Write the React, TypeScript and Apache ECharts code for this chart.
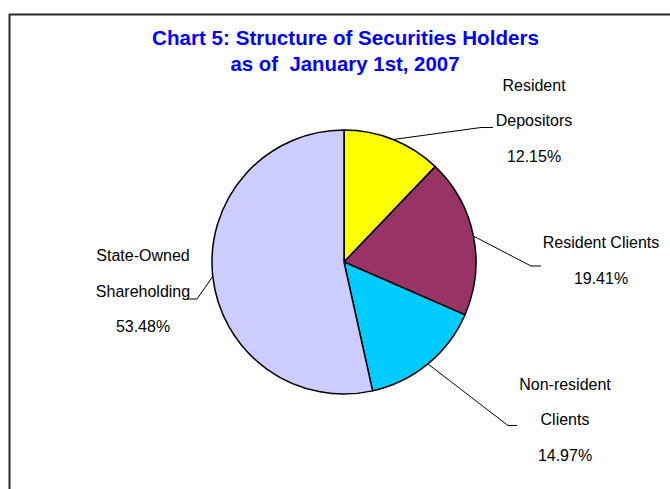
import React, { useEffect, useRef } from "react";
import * as echarts from "echarts";

const categories = ["Resident Depositors", "Resident Clients", "Non-resident Clients", "State-Owned Shareholding"];
const labelNames = ["Resident\nDepositors", "Resident Clients", "Non-resident\nClients", "State-Owned\nShareholding"];
const shares = [12.15, 19.41, 14.97, 53.48];
const sliceColors = ["#FFFF00", "#993366", "#00CCFF", "#CCCCFF"];
const titleLines = ["Chart 5: Structure of Securities Holders", "as of  January 1st, 2007"];

// label placement (pixel layout): label centre, elbow and end of the leader line
const labelPlacement = [
  { x: 534, y: 120.5, elbow: [481, 127.5], end: [493, 127.5] },
  { x: 601, y: 260.5, elbow: [531, 266], end: [541, 266] },
  { x: 565, y: 419.5, elbow: [508, 425.5], end: [517, 425.5] },
  { x: 143, y: 291, elbow: [197, 299], end: [188, 299] },
];

export default function App() {
  const ref = useRef<HTMLDivElement>(null);
  useEffect(() => {
    if (!ref.current) return;
    const chart = echarts.init(ref.current, null, { renderer: "svg" });
    const font = "'Liberation Sans', Arial, sans-serif";
    chart.setOption({
      animation: false,
      backgroundColor: "#ffffff",
      graphic: [
        {
          type: "rect",
          z: -10,
          shape: { x: 9.5, y: 14.5, width: 720, height: 520 },
          style: { fill: "none", stroke: "#2a2a2a", lineWidth: 2 },
        },
        {
          type: "text",
          x: 345.5,
          y: 37,
          style: {
            text: titleLines[0],
            align: "center",
            verticalAlign: "middle",
            fill: "#0000FF",
            font: `bold 20.6px ${font}`,
          },
        },
        {
          type: "text",
          x: 345,
          y: 64,
          style: {
            text: titleLines[1],
            align: "center",
            verticalAlign: "middle",
            fill: "#0000FF",
            font: `bold 20.4px ${font}`,
          },
        },
      ],
      series: [
        {
          type: "pie",
          center: [344, 262],
          radius: 132,
          startAngle: 90,
          clockwise: true,
          avoidLabelOverlap: false,
          silent: true,
          itemStyle: { borderColor: "#000", borderWidth: 1.5 },
          label: {
            show: true,
            position: "outside",
            fontFamily: font,
            fontSize: 16,
            lineHeight: 35.5,
            color: "#000",
            align: "center",
            formatter: (p: any) => `${labelNames[p.dataIndex]}\n${shares[p.dataIndex].toFixed(2)}%`,
          },
          labelLine: { show: true, length: 20, length2: 10, lineStyle: { color: "#000", width: 1 } },
          labelLayout: (params: any) => {
            const pl = labelPlacement[params.dataIndex];
            const start = params.labelLinePoints ? params.labelLinePoints[0] : pl.elbow;
            return {
              x: pl.x,
              y: pl.y,
              align: "center",
              verticalAlign: "middle",
              labelLinePoints: [start, pl.elbow, pl.end],
            };
          },
          data: categories.map((name, i) => ({
            name,
            value: shares[i],
            itemStyle: { color: sliceColors[i] },
          })),
        },
      ],
    });
    return () => chart.dispose();
  }, []);
  return (
    <div
      ref={ref}
      style={{ position: "fixed", left: 0, top: 0, width: 670, height: 489, background: "#fff" }}
    />
  );
}
